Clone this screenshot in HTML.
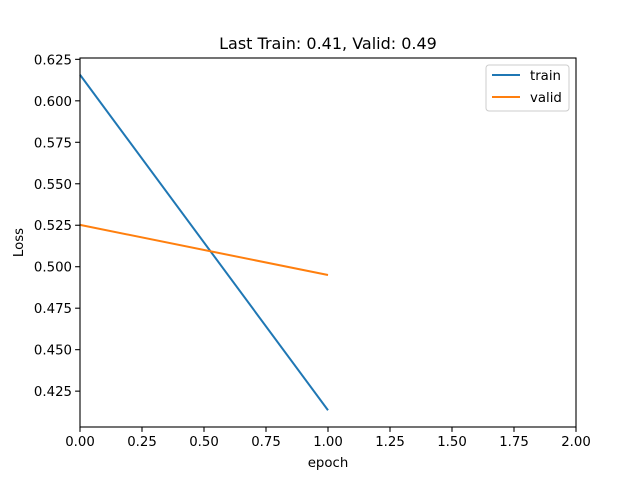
<!DOCTYPE html>
<html><head><meta charset="utf-8"><style>
body{margin:0;background:#fff;font-family:"Liberation Sans","DejaVu Sans",sans-serif}
text{font-family:"DejaVu Sans","Liberation Sans",sans-serif}
</style></head><body>
<svg id="chart" width="640" height="480" xmlns="http://www.w3.org/2000/svg"></svg>
<script>
const epochs=[0,1];
const trainLoss=[0.6157,0.4135];
const validLoss=[0.5252,0.4950];
const xTicks=[0,0.25,0.5,0.75,1,1.25,1.5,1.75,2];
const yTicks=[0.425,0.45,0.475,0.5,0.525,0.55,0.575,0.6,0.625];
const L=80,R=576,T=58,B=427;
const xMin=0,xMax=2;
const yAll=trainLoss.concat(validLoss);
const dMin=Math.min(...yAll),dMax=Math.max(...yAll),m=(dMax-dMin)*0.05;
const yMin=dMin-m,yMax=dMax+m;
const xs=v=>L+(v-xMin)/(xMax-xMin)*(R-L);
const ys=v=>B-(v-yMin)/(yMax-yMin)*(B-T);
const svg=document.getElementById('chart');
const NS='http://www.w3.org/2000/svg';
function mk(tag,attrs,txt){const e=document.createElementNS(NS,tag);for(const k in attrs)e.setAttribute(k,attrs[k]);if(txt!==undefined)e.textContent=txt;svg.appendChild(e);return e;}
xTicks.forEach(v=>{const x=xs(v);
const t=mk('line',{x1:x,x2:x,y1:B,y2:B+4.9,stroke:'#000','stroke-width':1.1});


const l=mk('text',{x:x,y:B+19,'font-size':13.3,'text-anchor':'middle'},v.toFixed(2));

});
yTicks.forEach(v=>{const y=ys(v);if(y<T-1||y>B+1)return;
const t=mk('line',{x1:L-4.9,x2:L,y1:y,y2:y,stroke:'#000','stroke-width':1.1});


const l=mk('text',{x:L-8,y:y+5,'font-size':13.3,'text-anchor':'end'},v.toFixed(3));

});
function series(vals,color,name){const p=mk('polyline',{points:epochs.map((e,i)=>xs(e)+','+ys(vals[i])).join(' '),fill:'none',stroke:color,'stroke-width':2});

}
series(trainLoss,'#1f77b4','train-line');
series(validLoss,'#ff7f0e','valid-line');
const f=mk('rect',{x:L,y:T,width:R-L,height:B-T,fill:'none',stroke:'#000','stroke-width':1.1});


const ti=mk('text',{x:(L+R)/2,y:49,'font-size':16,'text-anchor':'middle'},'Last Train: 0.41, Valid: 0.49');


const xl=mk('text',{x:(L+R)/2,y:467,'font-size':13.3,'text-anchor':'middle'},'epoch');


const yl=mk('text',{x:23,y:(T+B)/2,'font-size':13.3,'text-anchor':'middle',transform:'rotate(-90 23 '+((T+B)/2)+')'},'Loss');


const lg=mk('rect',{x:486,y:65,width:83,height:46,rx:3,fill:'#fff',stroke:'#ccc','stroke-width':1});


[['train','#1f77b4',75],['valid','#ff7f0e',97]].forEach(([n,c,y])=>{
const ln=mk('line',{x1:492,x2:520,y1:y,y2:y,stroke:c,'stroke-width':2});


const tx=mk('text',{x:530,y:y+5,'font-size':13.3},n);

});
</script>
</body></html>
